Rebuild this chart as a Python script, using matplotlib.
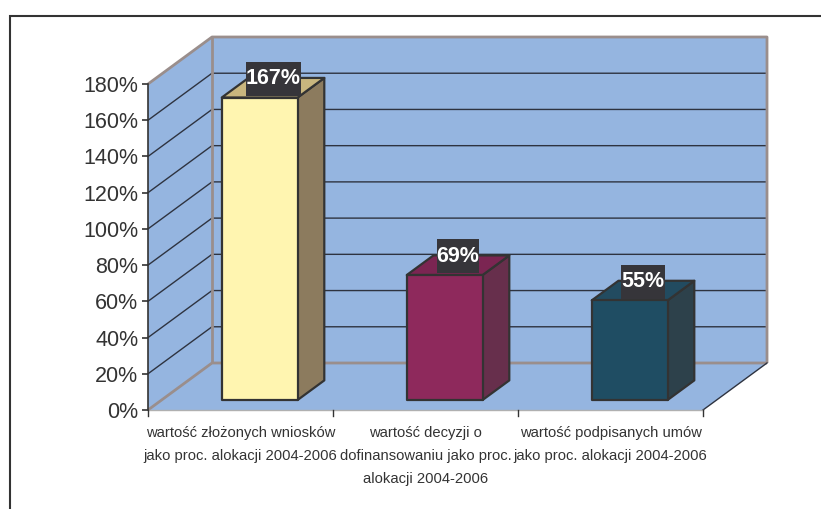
import matplotlib
matplotlib.use("Agg")
import matplotlib.pyplot as plt
from matplotlib.patches import Polygon, Rectangle
from matplotlib.path import Path

# ---- data ----
categories = [
    "wartość złożonych wniosków\njako proc. alokacji 2004-2006",
    "wartość decyzji o\ndofinansowaniu jako proc.\nalokacji 2004-2006",
    "wartość podpisanych umów\njako proc. alokacji 2004-2006",
]
values = [167, 69, 55]
value_labels = ["167%", "69%", "55%"]
y_ticks = [0, 20, 40, 60, 80, 100, 120, 140, 160, 180]
y_tick_labels = [f"{t}%" for t in y_ticks]

# ---- styles ----
front_colors = ["#FFF5B0", "#8E295C", "#1F4D63"]
top_colors = ["#C9B67E", "#7B2552", "#224B60"]
side_colors = ["#8C7B5E", "#672F4C", "#2D414B"]
wall_color = "#95B5E0"
wall_edge = "#9A8E8C"
grid_color = "#2E3340"
text_color = "#333333"

W, H, DPI = 821, 509, 100
fig = plt.figure(figsize=(W / DPI, H / DPI), dpi=DPI)
fig.patch.set_facecolor("white")
ax = fig.add_axes([0, 0, 1, 1])

# axes scaled so front plane: x in category units, y in percent
px_per_cat = 185.0
px_per_pct = 326.0 / 180.0
x0_px, y0_px = 148.0, 410.0
ax.set_xlim(-x0_px / px_per_cat, (W - x0_px) / px_per_cat)
ax.set_ylim(-(H - y0_px) / px_per_pct, y0_px / px_per_pct)

DX = 64.0 / px_per_cat   # depth offset in category units
DY = 47.0 / px_per_pct   # depth offset in percent units
ncat = len(categories)
ymax = y_ticks[-1]


def P(x, y, d):
    return (x + d * DX, y + d * DY)


def label_box(x0, y0, width, height, mutation_size):
    py = 0.3 * mutation_size
    x1, y1 = x0 + width, y0 + height + py
    y0 = y0 - py
    return Path([(x0, y0), (x1, y0), (x1, y1), (x0, y1), (x0, y0)], closed=True)


# walls
ax.add_patch(Polygon([P(0, 0, 1), P(ncat, 0, 1), P(ncat, ymax, 1), P(0, ymax, 1)],
                     closed=True, fc=wall_color, ec="none", zorder=1))
ax.add_patch(Polygon([P(0, 0, 0), P(0, 0, 1), P(0, ymax, 1), P(0, ymax, 0)],
                     closed=True, fc=wall_color, ec="none", zorder=1))
ax.add_patch(Polygon([P(0, 0, 0), P(ncat, 0, 0), P(ncat, 0, 1), P(0, 0, 1)],
                     closed=True, fc=wall_color, ec="none", zorder=1))

# gridlines
for t in y_ticks[1:-1]:
    pts = [P(0, t, 0), P(0, t, 1), P(ncat, t, 1)]
    ax.plot([p[0] for p in pts], [p[1] for p in pts], color=grid_color, lw=1.0, zorder=2)

# wall edges
for seg in ([P(0, ymax, 0), P(0, ymax, 1), P(ncat, ymax, 1), P(ncat, 0, 1)],
            [P(0, 0, 0), P(0, 0, 1), P(ncat, 0, 1)],
            [P(0, 0, 1), P(0, ymax, 1)]):
    ax.plot([p[0] for p in seg], [p[1] for p in seg], color=wall_edge, lw=2.0,
            zorder=2, solid_capstyle="butt")
seg = [P(ncat, 0, 0), P(ncat, 0, 1)]
ax.plot([p[0] for p in seg], [p[1] for p in seg], color=grid_color, lw=1.0, zorder=2)
seg = [P(0, 0, 0), P(ncat, 0, 0)]
ax.plot([p[0] for p in seg], [p[1] for p in seg], color="#B0B0B0", lw=1.0, zorder=2)

# bars
bar_w = 0.41
shift = 0.03
d0, d1 = 0.213, 0.63
for i, v in enumerate(values):
    xa = i + 0.5 + shift - bar_w / 2
    xb = xa + bar_w
    front = [P(xa, 0, d0), P(xb, 0, d0), P(xb, v, d0), P(xa, v, d0)]
    side = [P(xb, 0, d0), P(xb, 0, d1), P(xb, v, d1), P(xb, v, d0)]
    top = [P(xa, v, d0), P(xb, v, d0), P(xb, v, d1), P(xa, v, d1)]
    for poly, c in ((side, side_colors[i]), (top, top_colors[i]), (front, front_colors[i])):
        ax.add_patch(Polygon(poly, closed=True, fc=c, ec="#333333", lw=1.6,
                             joinstyle="round", zorder=3))
    cx, cy = P(i + 0.5 + shift, v, (d0 + d1) / 2)
    ax.annotate(value_labels[i], xy=(cx, cy), xytext=(0, 6.5), textcoords="offset points",
                ha="center", va="center", fontsize=15.5, fontweight="bold",
                color="white", family=["Liberation Sans", "DejaVu Sans"], zorder=5,
                bbox=dict(boxstyle=label_box, fc="#36353A", ec="none"))

# axes spines / ticks
for s in ("top", "right"):
    ax.spines[s].set_visible(False)
ax.spines["left"].set_position(("data", 0))
ax.spines["left"].set_bounds(0, ymax)
ax.spines["left"].set_color("#333333")
ax.spines["left"].set_linewidth(1.2)
ax.spines["left"].set_zorder(4)
ax.spines["bottom"].set_visible(False)
ax.set_yticks(y_ticks)
ax.set_yticklabels(y_tick_labels)
ax.tick_params(axis="y", direction="out", length=4, width=1.2, color="#333333",
               labelsize=15.5, labelcolor=text_color, pad=3)
for lab in ax.get_yticklabels():
    lab.set_family(["Liberation Sans", "DejaVu Sans"])
ax.set_xticks([])
for k in range(ncat + 1):
    ax.plot([k, k], [0, -6.0 / px_per_pct], color="#333333", lw=1.0, zorder=4)

# category labels
for i, lab in enumerate(categories):
    ax.text(i + 0.5, -16.0 / px_per_pct, lab, ha="center", va="top", fontsize=10.6,
            color=text_color, linespacing=1.8,
            family=["Liberation Sans", "DejaVu Sans"])

# figure frame
fig.add_artist(Rectangle((9.5 / W, -0.2), 1.2, 1.2 - 15.5 / H, transform=fig.transFigure,
                         fill=False, ec="#333333", lw=1.5))

fig.savefig("out.png", dpi=DPI)
